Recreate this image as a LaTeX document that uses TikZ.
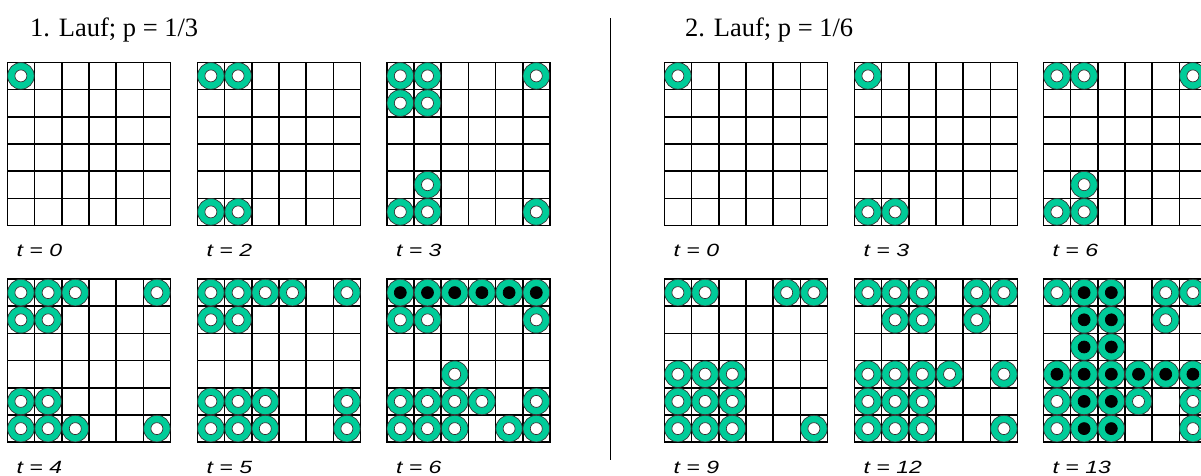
\documentclass[tikz,border=0pt]{standalone}
\usepackage{fontspec}
\setmainfont{Liberation Serif}
\setsansfont{Liberation Sans}

\definecolor{ringgruen}{RGB}{0,204,153}

\tikzset{
  gitter/.style={line width=1.6pt, draw=black, line cap=rect},
  ring/.style={fill=ringgruen, draw=black!80, line width=0.7pt},
  loch/.style={fill=white, draw=black!80, line width=0.7pt},
  kern/.style={fill=black, draw=black, line width=0.7pt},
  titel/.style={anchor=base west, inner sep=0pt, font=\fontsize{26.5}{32}\selectfont},
  zeit/.style={anchor=base west, inner sep=0pt, font=\sffamily\itshape\fontsize{17.7}{21}\selectfont},
}

%% 6x6 格子：#1 名字, #2/#3 左上角, #4 时间标签
\newcommand{\feld}[4]{%
  \foreach \i in {0,...,6} {
    \draw[gitter] (#2+\i*27.2,#3) -- (#2+\i*27.2,#3+163.2);
    \draw[gitter] (#2,#3+\i*27.2) -- (#2+163.2,#3+\i*27.2);
  }
  \node[zeit] (#1) at (#2+9.2,#3+194.5) {\scalebox{1.3}[1]{#4}};
}

%% 圆环：[内圈样式], #2/#3 左上角, #4 格子列表 c/r
\newcommand{\ringe}[4][loch]{%
  \foreach \c/\r in {#4} {
    \path[ring] (#2+\c*27.2+13.6,#3+\r*27.2+13.6) circle (13.3);
    \path[#1]   (#2+\c*27.2+13.6,#3+\r*27.2+13.6) circle (6.0);
  }
}

\begin{document}
\begin{tikzpicture}[x=1pt, y=-1pt]

  %% ════ 标题 ════
  \node[titel] (titel1) at (30.0,36.7) {1. Lauf; p = 1/3};
  \node[titel] (titel2) at (685.0,36.7) {2. Lauf; p = 1/6};

  %% ════ 分隔线 ════
  \draw[line width=1.3pt] (610.3,18.3) -- (610.3,460.0);

  %% ════ 1. Lauf ════
  \feld{l1}{7.3}{62.3}{t = 0}
  \feld{l2}{197.3}{62.3}{t = 2}
  \feld{l3}{386.7}{62.3}{t = 3}
  \feld{l4}{7.3}{279.0}{t = 4}
  \feld{l5}{197.3}{279.0}{t = 5}
  \feld{l6}{386.7}{279.0}{t = 6}

  \ringe{7.3}{62.3}{0/0}
  \ringe{197.3}{62.3}{0/0,1/0,0/5,1/5}
  \ringe{386.7}{62.3}{0/0,1/0,5/0,0/1,1/1,1/4,0/5,1/5,5/5}
  \ringe{7.3}{279.0}{0/0,1/0,2/0,5/0,0/1,1/1,0/4,1/4,0/5,1/5,2/5,5/5}
  \ringe{197.3}{279.0}{0/0,1/0,2/0,3/0,5/0,0/1,1/1,0/4,1/4,2/4,5/4,0/5,1/5,2/5,5/5}
  \ringe{386.7}{279.0}{0/1,1/1,5/1,2/3,0/4,1/4,2/4,3/4,5/4,0/5,1/5,2/5,4/5,5/5}
  \ringe[kern]{386.7}{279.0}{0/0,1/0,2/0,3/0,4/0,5/0}

  %% ════ 2. Lauf ════
  \feld{r1}{664.3}{62.3}{t = 0}
  \feld{r2}{854.3}{62.3}{t = 3}
  \feld{r3}{1043.3}{62.3}{t = 6}
  \feld{r4}{664.3}{279.0}{t = 9}
  \feld{r5}{854.3}{279.0}{t = 12}
  \feld{r6}{1043.3}{279.0}{t = 13}

  \ringe{664.3}{62.3}{0/0}
  \ringe{854.3}{62.3}{0/0,0/5,1/5}
  \ringe{1043.3}{62.3}{0/0,1/0,5/0,1/4,0/5,1/5}
  \ringe{664.3}{279.0}{0/0,1/0,4/0,5/0,0/3,1/3,2/3,0/4,1/4,2/4,0/5,1/5,2/5,5/5}
  \ringe{854.3}{279.0}{0/0,1/0,2/0,4/0,5/0,1/1,2/1,4/1,0/3,1/3,2/3,3/3,5/3,0/4,1/4,2/4,0/5,1/5,2/5,5/5}
  \ringe{1043.3}{279.0}{0/0,4/0,5/0,4/1,0/4,3/4,5/4,0/5,5/5}
  \ringe[kern]{1043.3}{279.0}{1/0,2/0,1/1,2/1,1/2,2/2,0/3,1/3,2/3,3/3,4/3,5/3,1/4,2/4,1/5,2/5}

  % 画布固定为 1201x475
  \pgfresetboundingbox
  \path[use as bounding box] (0,0) rectangle (1201,475);
\end{tikzpicture}
\end{document}
